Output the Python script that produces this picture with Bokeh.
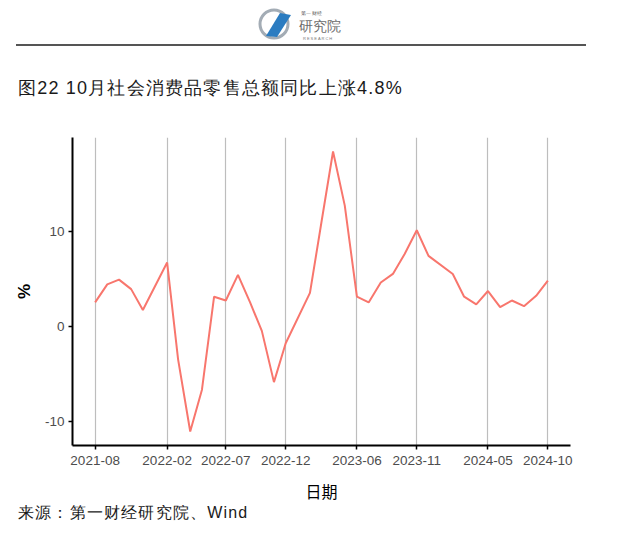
import pandas as pd
from bokeh.plotting import figure
from bokeh.layouts import column
from bokeh.models import (Range1d, FixedTicker, DatetimeTickFormatter,
                          ColumnDataSource, Div)
from bokeh.embed import file_html
from bokeh.resources import INLINE

# ---- data -------------------------------------------------------------
months = ["2021-08", "2021-09", "2021-10", "2021-11", "2021-12",
          "2022-02", "2022-03", "2022-04", "2022-05", "2022-06", "2022-07",
          "2022-08", "2022-09", "2022-10", "2022-11", "2022-12",
          "2023-02", "2023-03", "2023-04", "2023-05", "2023-06", "2023-07",
          "2023-08", "2023-09", "2023-10", "2023-11", "2023-12",
          "2024-02", "2024-03", "2024-04", "2024-05", "2024-06", "2024-07",
          "2024-08", "2024-09", "2024-10"]
retail_yoy = [2.5, 4.4, 4.9, 3.9, 1.7,
              6.7, -3.5, -11.1, -6.7, 3.1, 2.7,
              5.4, 2.5, -0.5, -5.9, -1.8,
              3.5, 10.6, 18.4, 12.7, 3.1, 2.5,
              4.6, 5.5, 7.6, 10.1, 7.4,
              5.5, 3.1, 2.3, 3.7, 2.0, 2.7,
              2.1, 3.2, 4.8]
tick_labels = ["2021-08", "2022-02", "2022-07", "2022-12",
               "2023-06", "2023-11", "2024-05", "2024-10"]
y_ticks = [-10, 0, 10]

title_text = "图22 10月社会消费品零售总额同比上涨4.8%"
source_text = "来源：第一财经研究院、Wind"
logo_top = "第一财经"
logo_main = "研究院"
logo_sub = "RESEARCH"

W = 640
HEAD_H, MAIN_H, FOOT_H = 120, 385, 35
CJK = "Noto Sans CJK SC"

# ---- header (logo, rule, title) --------------------------------------
head_html = f"""
<svg xmlns="http://www.w3.org/2000/svg" width="{W}" height="{HEAD_H}"
     style="display:block;background:white">
  <circle cx="274" cy="24" r="14" fill="none" stroke="#a3acb5" stroke-width="3"/>
  <polygon points="266,36 280,13 291,15 277,37" fill="#2b7cc1"/>
  <text x="301" y="12.5" dominant-baseline="central" font-family="{CJK}"
        font-size="5px" letter-spacing="0.3" fill="#555555">{logo_top}</text>
  <text x="299" y="25.5" dominant-baseline="central" font-family="{CJK}"
        font-size="14px" fill="#6b6b6b">{logo_main}</text>
  <text x="303" y="38" dominant-baseline="central" font-family="Liberation Sans"
        font-size="4px" letter-spacing="1" fill="#777777">{logo_sub}</text>
  <rect x="16" y="44" width="570" height="2" fill="#555555"/>
  <text x="18" y="88" dominant-baseline="central" font-family="{CJK}"
        font-size="18px" letter-spacing="1.2" fill="#1a1a1a">{title_text}</text>
</svg>"""
head = Div(text=head_html, width=W, height=HEAD_H, margin=0)

# ---- main chart -------------------------------------------------------
FL, FR = 72, 70
FT, FB = 137 - HEAD_H, (HEAD_H + MAIN_H) - 445

dates = pd.to_datetime(months)
src = ColumnDataSource(dict(x=dates, y=retail_yoy))


def to_ms(ts):
    return ts.value / 1e6


xmin, xmax = to_ms(dates.min()), to_ms(dates.max())
xpad = (xmax - xmin) * 0.05
ymin, ymax = min(retail_yoy), max(retail_yoy)
ypad = (ymax - ymin) * 0.05

p = figure(width=W, height=MAIN_H, x_axis_type="datetime",
           output_backend="svg", toolbar_location=None,
           x_range=Range1d(xmin - xpad, xmax + xpad),
           y_range=Range1d(ymin - ypad, ymax + ypad),
           min_border_left=FL, min_border_right=FR,
           min_border_top=FT, min_border_bottom=FB, margin=0)
p.outline_line_color = None
p.background_fill_color = "white"
p.border_fill_color = "white"

p.line("x", "y", source=src, line_color="#F8766D", line_width=2)

tick_ms = [to_ms(t) for t in pd.to_datetime(tick_labels)]
p.xaxis.ticker = FixedTicker(ticks=tick_ms)
fmt = "%Y-%m"
p.xaxis.formatter = DatetimeTickFormatter(years=fmt, months=fmt, days=fmt,
                                          hours=fmt, minutes=fmt)
p.yaxis.ticker = FixedTicker(ticks=y_ticks)
p.yaxis.major_label_overrides = {t: str(t) for t in y_ticks}

for ax in (p.xaxis[0], p.yaxis[0]):
    ax.axis_line_color = "black"
    ax.axis_line_width = 2
    ax.major_tick_line_color = "black"
    ax.major_tick_line_width = 1.5
    ax.major_tick_out = 4
    ax.major_tick_in = 0
    ax.minor_tick_line_color = None
    ax.major_label_text_font = "Liberation Sans"
    ax.major_label_text_font_size = "13.5px"
    ax.major_label_text_color = "#4d4d4d"
    ax.axis_label_text_font_style = "normal"
    ax.axis_label_text_color = "black"

p.xaxis.major_label_standoff = 6
p.yaxis.major_label_standoff = 4
p.xaxis.axis_label = "日期"
p.xaxis.axis_label_text_font = CJK
p.xaxis.axis_label_text_font_size = "16px"
p.xaxis.axis_label_standoff = 11
p.yaxis.axis_label = "%"
p.yaxis.axis_label_text_font = "Liberation Sans"
p.yaxis.axis_label_text_font_size = "17px"
p.yaxis.axis_label_text_font_style = "bold"
p.yaxis.axis_label_standoff = 8

p.xgrid.ticker = FixedTicker(ticks=tick_ms)
p.xgrid.grid_line_color = "#bdbdbd"
p.xgrid.grid_line_width = 1.2
p.ygrid.grid_line_color = None

# ---- footer -----------------------------------------------------------
foot_html = f"""
<svg xmlns="http://www.w3.org/2000/svg" width="{W}" height="{FOOT_H}"
     style="display:block;background:white">
  <text x="18" y="7" dominant-baseline="central" font-family="{CJK}"
        font-size="16px" letter-spacing="1.2" fill="#1a1a1a">{source_text}</text>
</svg>"""
foot = Div(text=foot_html, width=W, height=FOOT_H, margin=0)

layout = column(head, p, foot, spacing=0, margin=0)
open("out.html", "w").write(file_html(layout, INLINE))
